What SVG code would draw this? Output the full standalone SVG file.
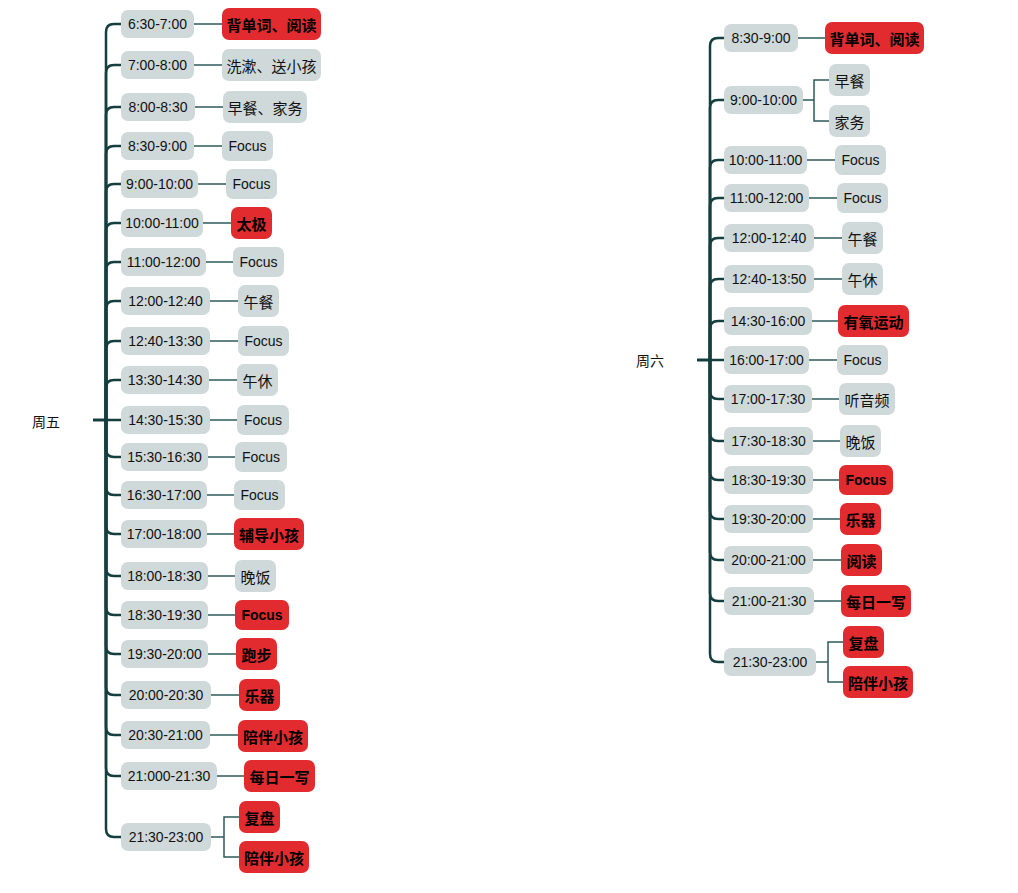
<svg xmlns="http://www.w3.org/2000/svg" width="1018" height="893" viewBox="0 0 1018 893">
<style>
.t{fill:#cfd9d9}
.g{fill:#cfd9d9}
.r{fill:#e12b2f}
.tt{font-family:"Liberation Sans","Noto Sans CJK SC",sans-serif;font-size:14px;fill:#111;text-anchor:middle;dominant-baseline:central}
.ct{font-family:"Noto Sans CJK SC","Liberation Sans",sans-serif;font-size:15px;fill:#111;text-anchor:middle;dominant-baseline:central}
.b{font-weight:bold;fill:#000}
.root{font-family:"Noto Sans CJK SC",sans-serif;font-size:14px;fill:#111;text-anchor:middle;dominant-baseline:central}
.sp{fill:none;stroke:#153f3f;stroke-width:2.5;stroke-linecap:round}
.ln{fill:none;stroke:#2e5a5a;stroke-width:1.5}
.tr{fill:none;stroke:#153f3f;stroke-width:3}
</style>
<g id="connectors">
<path class="tr" d="M93,420 H106"/>
<path class="sp" d="M106,420 V32 Q106,24 114,24 H121"/>
<path class="sp" d="M106,420 V73 Q106,65 114,65 H121"/>
<path class="sp" d="M106,420 V115 Q106,107 114,107 H121"/>
<path class="sp" d="M106,420 V154 Q106,146 114,146 H121"/>
<path class="sp" d="M106,420 V192 Q106,184 114,184 H121"/>
<path class="sp" d="M106,420 V231 Q106,223 114,223 H121"/>
<path class="sp" d="M106,420 V270 Q106,262 114,262 H121"/>
<path class="sp" d="M106,420 V309 Q106,301 114,301 H121"/>
<path class="sp" d="M106,420 V349 Q106,341 114,341 H121"/>
<path class="sp" d="M106,420 V388 Q106,380 114,380 H121"/>
<path class="sp" d="M106,420 H121"/>
<path class="sp" d="M106,420 V449 Q106,457 114,457 H121"/>
<path class="sp" d="M106,420 V487 Q106,495 114,495 H121"/>
<path class="sp" d="M106,420 V526 Q106,534 114,534 H121"/>
<path class="sp" d="M106,420 V568 Q106,576 114,576 H121"/>
<path class="sp" d="M106,420 V607 Q106,615 114,615 H121"/>
<path class="sp" d="M106,420 V646 Q106,654 114,654 H121"/>
<path class="sp" d="M106,420 V687 Q106,695 114,695 H121"/>
<path class="sp" d="M106,420 V727 Q106,735 114,735 H121"/>
<path class="sp" d="M106,420 V768 Q106,776 114,776 H121"/>
<path class="sp" d="M106,420 V829 Q106,837 114,837 H121"/>
<path class="ln" d="M194,24 H222"/>
<path class="ln" d="M194,65 H222"/>
<path class="ln" d="M195,107 H223"/>
<path class="ln" d="M194,146 H222"/>
<path class="ln" d="M198,184 H226"/>
<path class="ln" d="M203,223 H231"/>
<path class="ln" d="M206,262 H233"/>
<path class="ln" d="M210,301 H238"/>
<path class="ln" d="M210,341 H238"/>
<path class="ln" d="M209,380 H237"/>
<path class="ln" d="M210,420 H237"/>
<path class="ln" d="M208,457 H235"/>
<path class="ln" d="M207,495 H234"/>
<path class="ln" d="M207,534 H234"/>
<path class="ln" d="M208,576 H235"/>
<path class="ln" d="M208,615 H235"/>
<path class="ln" d="M208,654 H236"/>
<path class="ln" d="M211,695 H239"/>
<path class="ln" d="M210,735 H238"/>
<path class="ln" d="M217,776 H244"/>
<path class="ln" d="M211,837 H224 M239,817 H224 V857 H239"/>
<path class="tr" d="M697,360 H710"/>
<path class="sp" d="M710,360 V46 Q710,38 718,38 H724"/>
<path class="sp" d="M710,360 V108 Q710,100 718,100 H724"/>
<path class="sp" d="M710,360 V168 Q710,160 718,160 H724"/>
<path class="sp" d="M710,360 V206 Q710,198 718,198 H724"/>
<path class="sp" d="M710,360 V246 Q710,238 718,238 H724"/>
<path class="sp" d="M710,360 V287 Q710,279 718,279 H724"/>
<path class="sp" d="M710,360 V329 Q710,321 718,321 H724"/>
<path class="sp" d="M710,360 H724"/>
<path class="sp" d="M710,360 V391 Q710,399 718,399 H724"/>
<path class="sp" d="M710,360 V433 Q710,441 718,441 H724"/>
<path class="sp" d="M710,360 V472 Q710,480 718,480 H724"/>
<path class="sp" d="M710,360 V511 Q710,519 718,519 H724"/>
<path class="sp" d="M710,360 V552 Q710,560 718,560 H724"/>
<path class="sp" d="M710,360 V593 Q710,601 718,601 H724"/>
<path class="sp" d="M710,360 V654 Q710,662 718,662 H724"/>
<path class="ln" d="M798,38 H825"/>
<path class="ln" d="M803,100 H814 M829,80 H814 V121 H829"/>
<path class="ln" d="M807,160 H835"/>
<path class="ln" d="M809,198 H837"/>
<path class="ln" d="M814,238 H842"/>
<path class="ln" d="M814,279 H842"/>
<path class="ln" d="M812,321 H838"/>
<path class="ln" d="M809,360 H837"/>
<path class="ln" d="M812,399 H839"/>
<path class="ln" d="M813,441 H840"/>
<path class="ln" d="M813,480 H839"/>
<path class="ln" d="M813,519 H840"/>
<path class="ln" d="M813,560 H841"/>
<path class="ln" d="M814,601 H841"/>
<path class="ln" d="M816,662 H828 M843,642 H828 V682 H843"/>
</g>
<g id="fri"><text class="root" x="46" y="421">周五</text></g>
<g id="sat"><text class="root" x="650" y="360">周六</text></g>
<g id="l1t"><rect class="t" x="121" y="10" width="73" height="28" rx="7"/><text class="tt" x="157.5" y="24">6:30-7:00</text></g>
<g id="l1a"><rect class="r" x="222" y="8" width="99" height="32" rx="7"/><text class="ct b" x="271.5" y="24">背单词、阅读</text></g>
<g id="l2t"><rect class="t" x="121" y="51" width="73" height="28" rx="7"/><text class="tt" x="157.5" y="65">7:00-8:00</text></g>
<g id="l2a"><rect class="g" x="222" y="49" width="99" height="32" rx="7"/><text class="ct" x="271.5" y="65">洗漱、送小孩</text></g>
<g id="l3t"><rect class="t" x="121" y="93" width="74" height="28" rx="7"/><text class="tt" x="158" y="107">8:00-8:30</text></g>
<g id="l3a"><rect class="g" x="223" y="91" width="84" height="32" rx="7"/><text class="ct" x="265" y="107">早餐、家务</text></g>
<g id="l4t"><rect class="t" x="121" y="132" width="73" height="28" rx="7"/><text class="tt" x="157.5" y="146">8:30-9:00</text></g>
<g id="l4a"><rect class="g" x="222" y="131" width="51" height="30" rx="7"/><text class="tt" x="247.5" y="146">Focus</text></g>
<g id="l5t"><rect class="t" x="121" y="170" width="77" height="28" rx="7"/><text class="tt" x="159.5" y="184">9:00-10:00</text></g>
<g id="l5a"><rect class="g" x="226" y="169" width="51" height="30" rx="7"/><text class="tt" x="251.5" y="184">Focus</text></g>
<g id="l6t"><rect class="t" x="121" y="209" width="82" height="28" rx="7"/><text class="tt" x="162" y="223">10:00-11:00</text></g>
<g id="l6a"><rect class="r" x="231" y="207" width="41" height="32" rx="7"/><text class="ct b" x="251.5" y="223">太极</text></g>
<g id="l7t"><rect class="t" x="121" y="248" width="85" height="28" rx="7"/><text class="tt" x="163.5" y="262">11:00-12:00</text></g>
<g id="l7a"><rect class="g" x="233" y="247" width="51" height="30" rx="7"/><text class="tt" x="258.5" y="262">Focus</text></g>
<g id="l8t"><rect class="t" x="121" y="287" width="89" height="28" rx="7"/><text class="tt" x="165.5" y="301">12:00-12:40</text></g>
<g id="l8a"><rect class="g" x="238" y="285" width="41" height="32" rx="7"/><text class="ct" x="258.5" y="301">午餐</text></g>
<g id="l9t"><rect class="t" x="121" y="327" width="89" height="28" rx="7"/><text class="tt" x="165.5" y="341">12:40-13:30</text></g>
<g id="l9a"><rect class="g" x="238" y="326" width="51" height="30" rx="7"/><text class="tt" x="263.5" y="341">Focus</text></g>
<g id="l10t"><rect class="t" x="121" y="366" width="88" height="28" rx="7"/><text class="tt" x="165" y="380">13:30-14:30</text></g>
<g id="l10a"><rect class="g" x="237" y="364" width="41" height="32" rx="7"/><text class="ct" x="257.5" y="380">午休</text></g>
<g id="l11t"><rect class="t" x="121" y="406" width="89" height="28" rx="7"/><text class="tt" x="165.5" y="420">14:30-15:30</text></g>
<g id="l11a"><rect class="g" x="237" y="405" width="52" height="30" rx="7"/><text class="tt" x="263" y="420">Focus</text></g>
<g id="l12t"><rect class="t" x="121" y="443" width="87" height="28" rx="7"/><text class="tt" x="164.5" y="457">15:30-16:30</text></g>
<g id="l12a"><rect class="g" x="235" y="442" width="52" height="30" rx="7"/><text class="tt" x="261" y="457">Focus</text></g>
<g id="l13t"><rect class="t" x="121" y="481" width="86" height="28" rx="7"/><text class="tt" x="164" y="495">16:30-17:00</text></g>
<g id="l13a"><rect class="g" x="234" y="480" width="51" height="30" rx="7"/><text class="tt" x="259.5" y="495">Focus</text></g>
<g id="l14t"><rect class="t" x="121" y="520" width="86" height="28" rx="7"/><text class="tt" x="164" y="534">17:00-18:00</text></g>
<g id="l14a"><rect class="r" x="234" y="518" width="70" height="32" rx="7"/><text class="ct b" x="269" y="534">辅导小孩</text></g>
<g id="l15t"><rect class="t" x="121" y="562" width="87" height="28" rx="7"/><text class="tt" x="164.5" y="576">18:00-18:30</text></g>
<g id="l15a"><rect class="g" x="235" y="560" width="41" height="32" rx="7"/><text class="ct" x="255.5" y="576">晚饭</text></g>
<g id="l16t"><rect class="t" x="121" y="601" width="87" height="28" rx="7"/><text class="tt" x="164.5" y="615">18:30-19:30</text></g>
<g id="l16a"><rect class="r" x="235" y="600" width="54" height="30" rx="7"/><text class="tt b" x="262" y="615">Focus</text></g>
<g id="l17t"><rect class="t" x="121" y="640" width="87" height="28" rx="7"/><text class="tt" x="164.5" y="654">19:30-20:00</text></g>
<g id="l17a"><rect class="r" x="236" y="638" width="41" height="32" rx="7"/><text class="ct b" x="256.5" y="654">跑步</text></g>
<g id="l18t"><rect class="t" x="121" y="681" width="90" height="28" rx="7"/><text class="tt" x="166" y="695">20:00-20:30</text></g>
<g id="l18a"><rect class="r" x="239" y="679" width="41" height="32" rx="7"/><text class="ct b" x="259.5" y="695">乐器</text></g>
<g id="l19t"><rect class="t" x="121" y="721" width="89" height="28" rx="7"/><text class="tt" x="165.5" y="735">20:30-21:00</text></g>
<g id="l19a"><rect class="r" x="238" y="720" width="70" height="32" rx="7"/><text class="ct b" x="273" y="736">陪伴小孩</text></g>
<g id="l20t"><rect class="t" x="121" y="762" width="96" height="28" rx="7"/><text class="tt" x="169" y="776">21:000-21:30</text></g>
<g id="l20a"><rect class="r" x="244" y="760" width="71" height="32" rx="7"/><text class="ct b" x="279.5" y="776">每日一写</text></g>
<g id="l21t"><rect class="t" x="121" y="823" width="90" height="28" rx="7"/><text class="tt" x="166" y="837">21:30-23:00</text></g>
<g id="l21a"><rect class="r" x="239" y="801" width="41" height="32" rx="7"/><text class="ct b" x="259.5" y="817">复盘</text></g>
<g id="l21b"><rect class="r" x="239" y="841" width="70" height="32" rx="7"/><text class="ct b" x="274" y="857">陪伴小孩</text></g>
<g id="r1t"><rect class="t" x="724" y="24" width="74" height="28" rx="7"/><text class="tt" x="761" y="38">8:30-9:00</text></g>
<g id="r1a"><rect class="r" x="825" y="22" width="99" height="32" rx="7"/><text class="ct b" x="874.5" y="38">背单词、阅读</text></g>
<g id="r2t"><rect class="t" x="724" y="86" width="79" height="28" rx="7"/><text class="tt" x="763.5" y="100">9:00-10:00</text></g>
<g id="r2a"><rect class="g" x="829" y="64" width="41" height="32" rx="7"/><text class="ct" x="849.5" y="80">早餐</text></g>
<g id="r2b"><rect class="g" x="829" y="105" width="41" height="32" rx="7"/><text class="ct" x="849.5" y="121">家务</text></g>
<g id="r3t"><rect class="t" x="724" y="146" width="83" height="28" rx="7"/><text class="tt" x="765.5" y="160">10:00-11:00</text></g>
<g id="r3a"><rect class="g" x="835" y="145" width="51" height="30" rx="7"/><text class="tt" x="860.5" y="160">Focus</text></g>
<g id="r4t"><rect class="t" x="724" y="184" width="85" height="28" rx="7"/><text class="tt" x="766.5" y="198">11:00-12:00</text></g>
<g id="r4a"><rect class="g" x="837" y="183" width="51" height="30" rx="7"/><text class="tt" x="862.5" y="198">Focus</text></g>
<g id="r5t"><rect class="t" x="724" y="224" width="90" height="28" rx="7"/><text class="tt" x="769" y="238">12:00-12:40</text></g>
<g id="r5a"><rect class="g" x="842" y="222" width="41" height="32" rx="7"/><text class="ct" x="862.5" y="238">午餐</text></g>
<g id="r6t"><rect class="t" x="724" y="265" width="90" height="28" rx="7"/><text class="tt" x="769" y="279">12:40-13:50</text></g>
<g id="r6a"><rect class="g" x="842" y="263" width="41" height="32" rx="7"/><text class="ct" x="862.5" y="279">午休</text></g>
<g id="r7t"><rect class="t" x="724" y="307" width="88" height="28" rx="7"/><text class="tt" x="768" y="321">14:30-16:00</text></g>
<g id="r7a"><rect class="r" x="838" y="305" width="71" height="32" rx="7"/><text class="ct b" x="873.5" y="321">有氧运动</text></g>
<g id="r8t"><rect class="t" x="724" y="346" width="85" height="28" rx="7"/><text class="tt" x="766.5" y="360">16:00-17:00</text></g>
<g id="r8a"><rect class="g" x="837" y="345" width="51" height="30" rx="7"/><text class="tt" x="862.5" y="360">Focus</text></g>
<g id="r9t"><rect class="t" x="724" y="385" width="88" height="28" rx="7"/><text class="tt" x="768" y="399">17:00-17:30</text></g>
<g id="r9a"><rect class="g" x="839" y="383" width="56" height="32" rx="7"/><text class="ct" x="867" y="399">听音频</text></g>
<g id="r10t"><rect class="t" x="724" y="427" width="89" height="28" rx="7"/><text class="tt" x="768.5" y="441">17:30-18:30</text></g>
<g id="r10a"><rect class="g" x="840" y="425" width="41" height="32" rx="7"/><text class="ct" x="860.5" y="441">晚饭</text></g>
<g id="r11t"><rect class="t" x="724" y="466" width="89" height="28" rx="7"/><text class="tt" x="768.5" y="480">18:30-19:30</text></g>
<g id="r11a"><rect class="r" x="839" y="465" width="54" height="30" rx="7"/><text class="tt b" x="866" y="480">Focus</text></g>
<g id="r12t"><rect class="t" x="724" y="505" width="89" height="28" rx="7"/><text class="tt" x="768.5" y="519">19:30-20:00</text></g>
<g id="r12a"><rect class="r" x="840" y="503" width="41" height="32" rx="7"/><text class="ct b" x="860.5" y="519">乐器</text></g>
<g id="r13t"><rect class="t" x="724" y="546" width="89" height="28" rx="7"/><text class="tt" x="768.5" y="560">20:00-21:00</text></g>
<g id="r13a"><rect class="r" x="841" y="544" width="41" height="32" rx="7"/><text class="ct b" x="861.5" y="560">阅读</text></g>
<g id="r14t"><rect class="t" x="724" y="587" width="90" height="28" rx="7"/><text class="tt" x="769" y="601">21:00-21:30</text></g>
<g id="r14a"><rect class="r" x="841" y="585" width="70" height="32" rx="7"/><text class="ct b" x="876" y="601">每日一写</text></g>
<g id="r15t"><rect class="t" x="724" y="648" width="92" height="28" rx="7"/><text class="tt" x="770" y="662">21:30-23:00</text></g>
<g id="r15a"><rect class="r" x="843" y="626" width="41" height="32" rx="7"/><text class="ct b" x="863.5" y="642">复盘</text></g>
<g id="r15b"><rect class="r" x="843" y="666" width="70" height="32" rx="7"/><text class="ct b" x="878" y="682">陪伴小孩</text></g>
</svg>
